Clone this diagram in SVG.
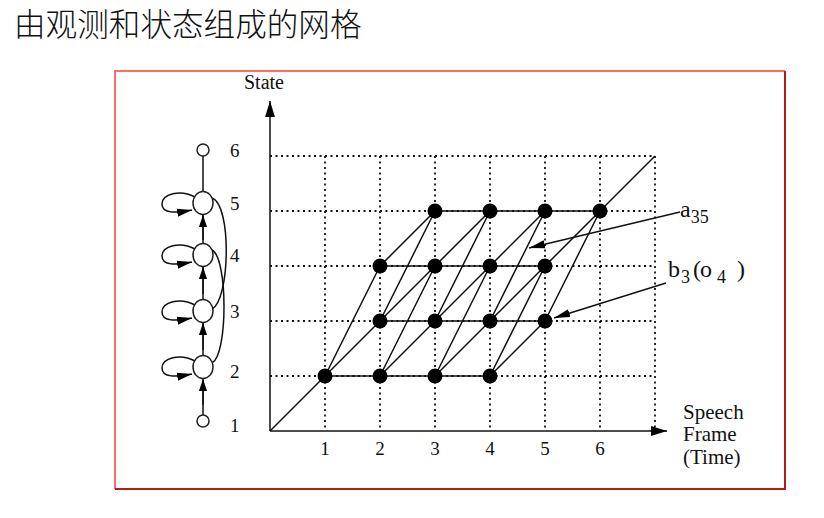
<svg xmlns="http://www.w3.org/2000/svg" width="824" height="518" viewBox="0 0 824 518">
<defs>
<style>
.grid{stroke:#111;stroke-width:1.8;stroke-dasharray:2 3.5;fill:none}
.ln{stroke:#111;stroke-width:1.5;fill:none}
.nd{fill:#000}
.st{fill:#fff;stroke:#222;stroke-width:1.5}
.t{font-family:"Liberation Serif","Times New Roman",serif;fill:#111}
</style>
<marker id="ah" viewBox="0 0 10 10" refX="10" refY="5" markerWidth="12" markerHeight="9" markerUnits="userSpaceOnUse" orient="auto" preserveAspectRatio="none"><path d="M0,0.5 L10,5 L0,9.5 Z" fill="#000"/></marker>
<marker id="ahl" viewBox="0 0 10 10" refX="10" refY="5" markerWidth="15" markerHeight="9" markerUnits="userSpaceOnUse" orient="auto" preserveAspectRatio="none"><path d="M0,0.5 L10,5 L0,9.5 Z" fill="#000"/></marker>
<marker id="ahb" viewBox="0 0 10 10" refX="10" refY="5" markerWidth="16" markerHeight="11" markerUnits="userSpaceOnUse" orient="auto" preserveAspectRatio="none"><path d="M0,0.5 L10,5 L0,9.5 Z" fill="#000"/></marker>
<marker id="ahs" viewBox="0 0 10 10" refX="10" refY="5" markerWidth="16" markerHeight="9" markerUnits="userSpaceOnUse" orient="auto" preserveAspectRatio="none"><path d="M0,0.5 L10,5 L0,9.5 Z" fill="#000"/></marker>
</defs>
<rect width="824" height="518" fill="#fff"/>
<text x="14" y="36" font-family="Noto Sans CJK SC, sans-serif" font-size="31.6" font-weight="300" fill="#111">由观测和状态组成的网格</text>
<g id="frame">
<path d="M115,489 V71 H785" fill="none" stroke="#ff6b6b" stroke-width="2"/>
<path d="M785,71 V489 H115" fill="none" stroke="#b01c1c" stroke-width="2"/>
</g>
<g id="grid">
<path class="grid" d="M270,156 H655 M270,211 H655 M270,266 H655 M270,321 H655 M270,376 H655 M325,156 V431 M380,156 V431 M435,156 V431 M490,156 V431 M545,156 V431 M600,156 V431 M655,156 V431"/>
</g>
<g id="axes">
<line class="ln" x1="270" y1="431" x2="270" y2="101" stroke-width="1.6" marker-end="url(#ahb)"/>
<line class="ln" x1="270" y1="431" x2="667" y2="431" stroke-width="1.6" marker-end="url(#ahb)"/>
<text class="t" x="244" y="89" font-size="20">State</text>
<g text-anchor="middle">
<text class="t" x="325" y="455" font-size="19">1</text><text class="t" x="380" y="455" font-size="19">2</text><text class="t" x="435" y="455" font-size="19">3</text><text class="t" x="490" y="455" font-size="19">4</text><text class="t" x="545" y="455" font-size="19">5</text><text class="t" x="600" y="455" font-size="19">6</text>
</g>
<text class="t" x="683" y="419" font-size="21">Speech</text>
<text class="t" x="683" y="441" font-size="21">Frame</text>
<text class="t" x="683" y="464" font-size="21">(Time)</text>
</g>
<g id="connectors">
<path class="ln" d="M270,431 L325,376 M600,211 L655,156
M325,376 H490 M380,321 H545 M380,266 H545 M435,211 H600
M325,376 L380,321 M325,376 L380,266
M380,376 L435,321 M380,376 L435,266
M380,321 L435,266 M380,321 L435,211
M380,266 L435,211
M435,376 L490,321 M435,376 L490,266
M435,321 L490,266 M435,321 L490,211
M435,266 L490,211
M490,376 L545,321 M490,376 L545,266
M490,321 L545,266 M490,321 L545,211
M490,266 L545,211
M545,321 L600,211 M545,266 L600,211"/>
<line class="ln" x1="680" y1="212" x2="529" y2="248" marker-end="url(#ahs)"/>
<line class="ln" x1="666" y1="283" x2="554" y2="318" marker-end="url(#ahs)"/>
</g>
<g id="trellis-nodes">
<circle class="nd" cx="325" cy="376" r="7.5"/>
<circle class="nd" cx="380" cy="376" r="7.5"/><circle class="nd" cx="380" cy="321" r="7.5"/><circle class="nd" cx="380" cy="266" r="7.5"/>
<circle class="nd" cx="435" cy="376" r="7.5"/><circle class="nd" cx="435" cy="321" r="7.5"/><circle class="nd" cx="435" cy="266" r="7.5"/><circle class="nd" cx="435" cy="211" r="7.5"/>
<circle class="nd" cx="490" cy="376" r="7.5"/><circle class="nd" cx="490" cy="321" r="7.5"/><circle class="nd" cx="490" cy="266" r="7.5"/><circle class="nd" cx="490" cy="211" r="7.5"/>
<circle class="nd" cx="545" cy="321" r="7.5"/><circle class="nd" cx="545" cy="266" r="7.5"/><circle class="nd" cx="545" cy="211" r="7.5"/>
<circle class="nd" cx="600" cy="211" r="7.5"/>
</g>
<g id="labels">
<text class="t" x="680" y="217" font-size="24">a<tspan font-size="18" dy="6">35</tspan></text>
<text class="t" y="277" font-size="24"><tspan x="668">b</tspan><tspan x="681" font-size="18" dy="6">3</tspan><tspan x="693" dy="-6">(</tspan><tspan x="700">o</tspan><tspan x="717" font-size="18" dy="6">4</tspan><tspan x="737" dy="-6">)</tspan></text>
</g>
<g id="hmm-connectors">
<path class="ln" d="M203,156 V192 M203,415 V380 M203,214 V244 M203,266 V300 M203,322 V356"/>
<path class="ln" d="M203,405 V379" marker-end="url(#ah)"/>
<path class="ln" d="M203,350 V323" marker-end="url(#ah)"/>
<path class="ln" d="M203,294 V267" marker-end="url(#ah)"/>
<path class="ln" d="M203,240 V215" marker-end="url(#ah)"/>
<path class="ln" d="M212,198 C232,205 230,300 212,309"/>
<path class="ln" d="M212,250 C228,258 228,355 212,363"/>
<path class="ln" d="M195,197 C180,189 162,194 162,204 C162,214 176,213 192,210" marker-end="url(#ahl)"/>
<path class="ln" d="M195,249 C180,241 162,246 162,256 C162,266 176,265 192,262" marker-end="url(#ahl)"/>
<path class="ln" d="M195,305 C180,297 162,302 162,312 C162,322 176,321 192,318" marker-end="url(#ahl)"/>
<path class="ln" d="M195,361 C180,353 162,358 162,368 C162,378 176,377 192,374" marker-end="url(#ahl)"/>
</g>
<g id="hmm-states">
<g id="s6"><circle class="st" cx="203" cy="150" r="6"/><text class="t" x="230" y="157" font-size="19">6</text></g>
<g id="s5"><ellipse class="st" cx="203" cy="203" rx="10" ry="11.5"/><text class="t" x="230" y="210" font-size="19">5</text></g>
<g id="s4"><ellipse class="st" cx="203" cy="255" rx="10" ry="11.5"/><text class="t" x="230" y="262" font-size="19">4</text></g>
<g id="s3"><ellipse class="st" cx="203" cy="311" rx="10" ry="11.5"/><text class="t" x="230" y="318" font-size="19">3</text></g>
<g id="s2"><ellipse class="st" cx="203" cy="367" rx="10" ry="11.5"/><text class="t" x="230" y="378" font-size="19">2</text></g>
<g id="s1"><circle class="st" cx="203" cy="421" r="6"/><text class="t" x="230" y="432" font-size="19">1</text></g>
</g>
</svg>
